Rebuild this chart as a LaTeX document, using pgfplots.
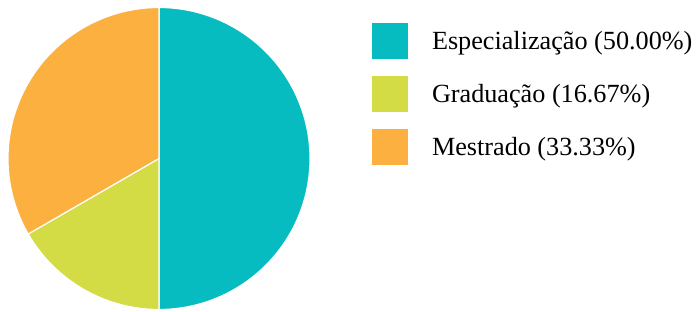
\documentclass[border=0pt]{standalone}
\usepackage{fontspec}
\setmainfont{Liberation Serif}
\usepackage{pgfplots}
\usepackage{pgfplotstable}
\pgfplotsset{compat=1.18}
\definecolor{cEsp}{RGB}{6,188,192}
\definecolor{cGra}{RGB}{211,219,69}
\definecolor{cMes}{RGB}{251,176,64}

\pgfplotstableread{
value
50.00
16.67
33.33
}\piedata

\begin{document}
\begin{tikzpicture}
\path[use as bounding box] (0,0) rectangle (700pt,311pt);
\pgfplotstablegetelem{0}{value}\of\piedata \edef\vA{\pgfplotsretval}
\pgfplotstablegetelem{1}{value}\of\piedata \edef\vB{\pgfplotsretval}
\pgfplotstablegetelem{2}{value}\of\piedata \edef\vC{\pgfplotsretval}
\pgfmathsetmacro{\tot}{\vA+\vB+\vC}
\pgfmathsetmacro{\fA}{\vA/\tot}
\pgfmathsetmacro{\fB}{\vB/\tot}
\pgfmathsetmacro{\fC}{\vC/\tot}
\pgfmathsetmacro{\aA}{90}
\pgfmathsetmacro{\aB}{90-360*\fA}
\pgfmathsetmacro{\aC}{\aB-360*\fB}
\pgfmathsetmacro{\aD}{\aC-360*\fC}
\begin{axis}[
  at={(8pt,1.5pt)}, anchor=south west,
  scale only axis, width=302pt, height=302pt,
  xmin=-1, xmax=1, ymin=-1, ymax=1,
  hide axis, clip=false,
  legend style={at={(1.2053,0.9487)}, anchor=north west, draw=none, fill=none,
    inner sep=0pt, outer sep=0pt, row sep=17pt, column sep=24pt,
    font=\fontsize{26.2}{31}\selectfont, cells={anchor=base west},
    nodes={inner sep=0pt, outer sep=0pt}},
  legend image code/.code={\fill[#1, draw=none] (0pt,-9.4pt) rectangle (36pt,26.6pt);},
]
\addplot[fill=cEsp, draw=white, line width=1.2pt, domain=\aB:\aA, samples=181, variable=\t] ({cos(\t)},{sin(\t)}) -- (axis cs:0,0) -- cycle;
\addlegendentry{Especialização (50.00\%)}
\addplot[fill=cGra, draw=white, line width=1.2pt, domain=\aC:\aB, samples=61, variable=\t] ({cos(\t)},{sin(\t)}) -- (axis cs:0,0) -- cycle;
\addlegendentry{Graduação (16.67\%)}
\addplot[fill=cMes, draw=white, line width=1.2pt, domain=\aD:\aC, samples=121, variable=\t] ({cos(\t)},{sin(\t)}) -- (axis cs:0,0) -- cycle;
\addlegendentry{Mestrado (33.33\%)}
\end{axis}
\end{tikzpicture}
\end{document}
